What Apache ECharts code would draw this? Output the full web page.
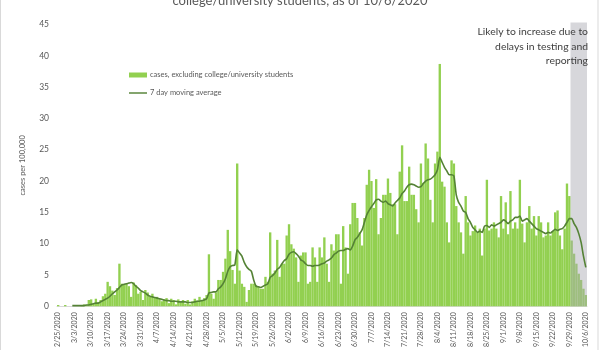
<!DOCTYPE html>
<html>
<head>
<meta charset="utf-8">
<script src="https://cdn.jsdelivr.net/npm/echarts@6/dist/echarts.min.js"></script>
<style>
html,body{margin:0;padding:0;background:#fff;}
#chart{width:600px;height:350px;}
</style>
</head>
<body>
<div id="chart"></div>
<script>
// ---- data ----
const titleText = 'college/university students, as of 10/6/2020';
const seriesNames = ['cases, excluding college/university students', '7 day moving average'];
const noteLines = ['Likely to increase due to', 'delays in testing and', 'reporting'];
const yAxisName = 'cases per 100,000';
const yMin = 0, yMax = 45, yInterval = 5;
const firstDate = [2020, 2, 25];   // year, month, day
const dayCount = 225;              // 2/25/2020 .. 10/6/2020
const labelEvery = 7;              // weekly tick labels
const shadedFrom = '9/30/2020';
const shadedTo = '10/6/2020';

const caseValues = [
  0.2, 0, 0, 0.2, 0, 0, 0,
  0, 0, 0, 0.2, 0.3, 0.2, 1.0,
  1.1, 0.4, 1.2, 0.6, 1.0, 1.6, 2.0,
  3.9, 3.2, 2.5, 1.8, 2.9, 6.8, 3.6,
  3.5, 3.6, 3.2, 1.5, 3.8, 3.4, 2.0,
  2.3, 1.0, 2.6, 2.2, 1.5, 2.0, 1.4,
  1.5, 1.2, 0.8, 1.1, 1.3, 0.5, 1.2,
  1.0, 0.3, 1.1, 0.8, 1.0, 0.4, 1.0,
  0.3, 0.8, 1.2, 0.9, 1.5, 1.0, 1.3,
  1.8, 8.3, 2.0, 1.2, 2.2, 4.2, 4.2,
  5.5, 7.6, 12.2, 8.8, 5.8, 3.6, 22.8,
  5.7, 3.6, 3.1, 0.7, 2.6, 3.6, 3.6,
  3.4, 3.1, 2.8, 2.8, 4.7, 3.9, 11.8,
  5.2, 5.7, 10.6, 4.7, 6.8, 6.8, 11.3,
  13.1, 9.9, 9.2, 7.8, 3.9, 8.1, 8.6,
  8.6, 3.6, 3.9, 9.4, 7.8, 3.9, 9.4,
  7.8, 11.0, 6.8, 3.9, 9.9, 8.9, 11.5,
  11.5, 3.6, 12.8, 9.4, 5.2, 13.1, 16.5,
  16.5, 14.1, 11.8, 9.7, 14.1, 19.4, 21.8,
  20.0, 15.7, 20.3, 11.5, 14.1, 17.8, 17.8,
  20.4, 18.1, 16.3, 16.3, 11.5, 21.5, 25.7,
  16.8, 16.8, 22.3, 17.8,
  17.8, 15.5, 13.4, 22.8, 19.7, 26.0, 23.6,
  17.0, 13.4, 22.8, 24.7, 38.7, 19.9, 19.1,
  13.4, 10.2, 23.3, 22.8, 16.0, 13.4, 11.8,
  8.4, 17.6, 13.4, 11.3, 12.0, 12.9, 11.8,
  12.4, 8.1, 12.4, 20.2, 12.1, 12.4, 13.4,
  12.4, 11.0, 17.6, 12.4, 16.6, 11.5, 18.4,
  12.4, 13.4, 12.4, 20.2, 13.2, 10.2, 13.4,
  16.0, 12.4, 14.4, 11.3, 14.4, 13.4, 11.0,
  11.3, 13.4, 11.3, 12.0, 15.0, 15.3, 11.3,
  9.1, 12.4, 19.6, 17.6,
  10.5, 8.4, 6.8, 5.2, 4.2, 2.8, 1.8
];

const movingAverage = [
  null, null, null, null, null, null, 0.1,
  0.1, 0.1, 0.1, 0.1, 0.1, 0.2, 0.2,
  0.3, 0.4, 0.5, 0.5, 0.7, 0.9, 1.1,
  1.3, 1.6, 2.0, 2.3, 2.6, 3.0, 3.4,
  3.5, 3.6, 3.7, 3.8, 3.6, 3.2, 2.9,
  2.5, 2.3, 2.1, 1.8, 1.6, 1.5, 1.4,
  1.3, 1.2, 1.1, 1.0, 0.9, 0.9, 0.8,
  0.8, 0.8, 0.7, 0.7, 0.7, 0.7, 0.6,
  0.6, 0.6, 0.7, 0.8, 0.8, 0.9, 1.0,
  1.2, 2.1, 2.2, 2.3, 2.3, 2.8, 3.1,
  3.6, 4.4, 5.6, 6.3, 6.5, 6.6, 9.0,
  8.5, 8.0, 7.0, 6.3, 5.9, 5.6, 4.2,
  3.2, 3.1, 3.0, 3.2, 3.4, 3.6, 4.6,
  4.9, 5.3, 5.9, 6.2, 6.8, 7.3, 7.6,
  8.3, 8.6, 8.7, 8.4, 8.0, 7.4, 7.2,
  6.8, 6.5, 6.5, 6.4, 6.5, 6.5, 6.6,
  6.8, 6.9, 7.2, 7.4, 7.7, 8.2, 8.5,
  8.8, 8.9, 8.9, 9.1, 9.2, 9.0, 9.6,
  10.6, 11.0, 11.6, 12.2, 13.4, 14.6, 15.3,
  15.9, 16.4, 17.0, 17.1, 16.8, 16.6, 16.8,
  16.4, 16.2, 16.0, 16.5, 16.9, 17.3, 18.0,
  18.4, 19.0, 19.4, 19.5,
  19.4, 19.2, 19.0, 19.1, 19.6, 20.0, 20.2,
  20.3, 20.6, 21.0, 21.8, 23.8, 23.0, 22.2,
  21.6, 21.0, 21.0, 20.8, 17.8, 16.6, 16.0,
  15.2, 15.0, 14.0, 13.4, 12.6, 12.2, 11.8,
  12.0, 11.8, 12.8, 12.9, 12.6, 13.0, 12.8,
  13.0, 13.2, 13.4, 13.8, 13.6, 13.2, 13.6,
  13.8, 14.2, 14.2, 14.4, 13.6, 13.8, 14.0,
  13.6, 13.2, 12.8, 12.4, 12.2, 12.0, 11.8,
  11.6, 11.8, 11.7, 12.0, 12.3, 12.1, 12.3,
  12.4, 12.8, 13.4, 14.0,
  14.0, 13.2, 12.6, 11.6, 10.2, 8.0, 6.2
];

// category labels (dates)
const dateLabels = [];
for (let i = 0; i < dayCount; i++) {
  const d = new Date(firstDate[0], firstDate[1] - 1, firstDate[2] + i);
  dateLabels.push((d.getMonth() + 1) + '/' + d.getDate() + '/' + d.getFullYear());
}

// ---- chart ----
const chart = echarts.init(document.getElementById('chart'), null, { renderer: 'canvas' });
const FONT = 'Lato';
const GRID = { left: 57, right: 13, top: 24.5, bottom: 40.5 };

const option = {
  animation: false,
  backgroundColor: '#ffffff',
  textStyle: { fontFamily: FONT },
  grid: GRID,
  legend: {
    orient: 'vertical',
    left: 124,
    top: 66,
    itemGap: 10,
    itemWidth: 18,
    itemHeight: 5,
    textStyle: { fontFamily: FONT, fontSize: 7.5, color: '#595959', padding: [0, 0, 0, -2] },
    data: [
      { name: seriesNames[0], icon: 'rect' },
      { name: seriesNames[1], icon: 'path://M0,0 L20,0 L20,1.6 L0,1.6 Z' }
    ]
  },
  xAxis: {
    type: 'category',
    data: dateLabels,
    boundaryGap: true,
    axisLine: { show: true, lineStyle: { color: '#d9d9d9', width: 1 } },
    axisTick: { show: false },
    axisLabel: {
      interval: labelEvery - 1,
      rotate: 90,
      fontFamily: FONT,
      fontSize: 7,
      color: '#595959',
      margin: 6
    },
    splitLine: { show: false }
  },
  yAxis: {
    type: 'value',
    min: yMin,
    max: yMax,
    interval: yInterval,
    name: yAxisName,
    nameLocation: 'middle',
    nameGap: 30,
    nameTextStyle: { fontFamily: FONT, fontSize: 7.5, color: '#595959' },
    axisLine: { show: false },
    axisTick: { show: false },
    splitLine: { show: false },
    axisLabel: { fontFamily: FONT, fontSize: 8.5, color: '#595959', margin: 8 }
  },
  series: [
    {
      name: seriesNames[0],
      type: 'bar',
      data: caseValues,
      barCategoryGap: '0%',
      itemStyle: { color: '#92d050' },
      z: 2
    },
    {
      name: 'shade',
      type: 'custom',
      z: 3,
      silent: true,
      data: [[dateLabels.indexOf(shadedFrom), dateLabels.indexOf(shadedTo)]],
      renderItem: function (params, api) {
        const a = api.coord([api.value(0), yMax]);
        const b = api.coord([api.value(1), yMin]);
        const w = api.size([1, 0])[0];
        return {
          type: 'rect',
          shape: { x: a[0] - w / 2, y: a[1] - 2, width: b[0] - a[0] + w, height: b[1] - a[1] + 2 },
          style: { fill: 'rgba(172,172,180,0.48)' }
        };
      }
    },
    {
      name: seriesNames[1],
      type: 'line',
      data: movingAverage,
      symbol: 'none',
      smooth: 0.2,
      connectNulls: false,
      lineStyle: { color: '#548235', width: 1.6 },
      itemStyle: { color: '#548235' },
      z: 4
    }
  ],
  graphic: [
    {
      type: 'rect',
      shape: { x: 0.5, y: -10, width: 597.5, height: 380 },
      style: { fill: 'none', stroke: '#d9d9d9', lineWidth: 1 },
      silent: true,
      z: 0
    },
    {
      type: 'text',
      left: 'center',
      top: -6,
      style: { text: titleText, fontFamily: FONT, fontSize: 13, fill: '#595959' },
      z: 10
    },
    {
      type: 'text',
      x: 588,
      y: 25,
      style: {
        text: noteLines.join('\n'),
        fontFamily: FONT,
        fontSize: 10.4,
        lineHeight: 14.3,
        fill: '#404040',
        textAlign: 'right',
        align: 'right',
        textVerticalAlign: 'top',
        verticalAlign: 'top'
      },
      z: 10
    }
  ]
};
chart.setOption(option);
</script>
</body>
</html>
